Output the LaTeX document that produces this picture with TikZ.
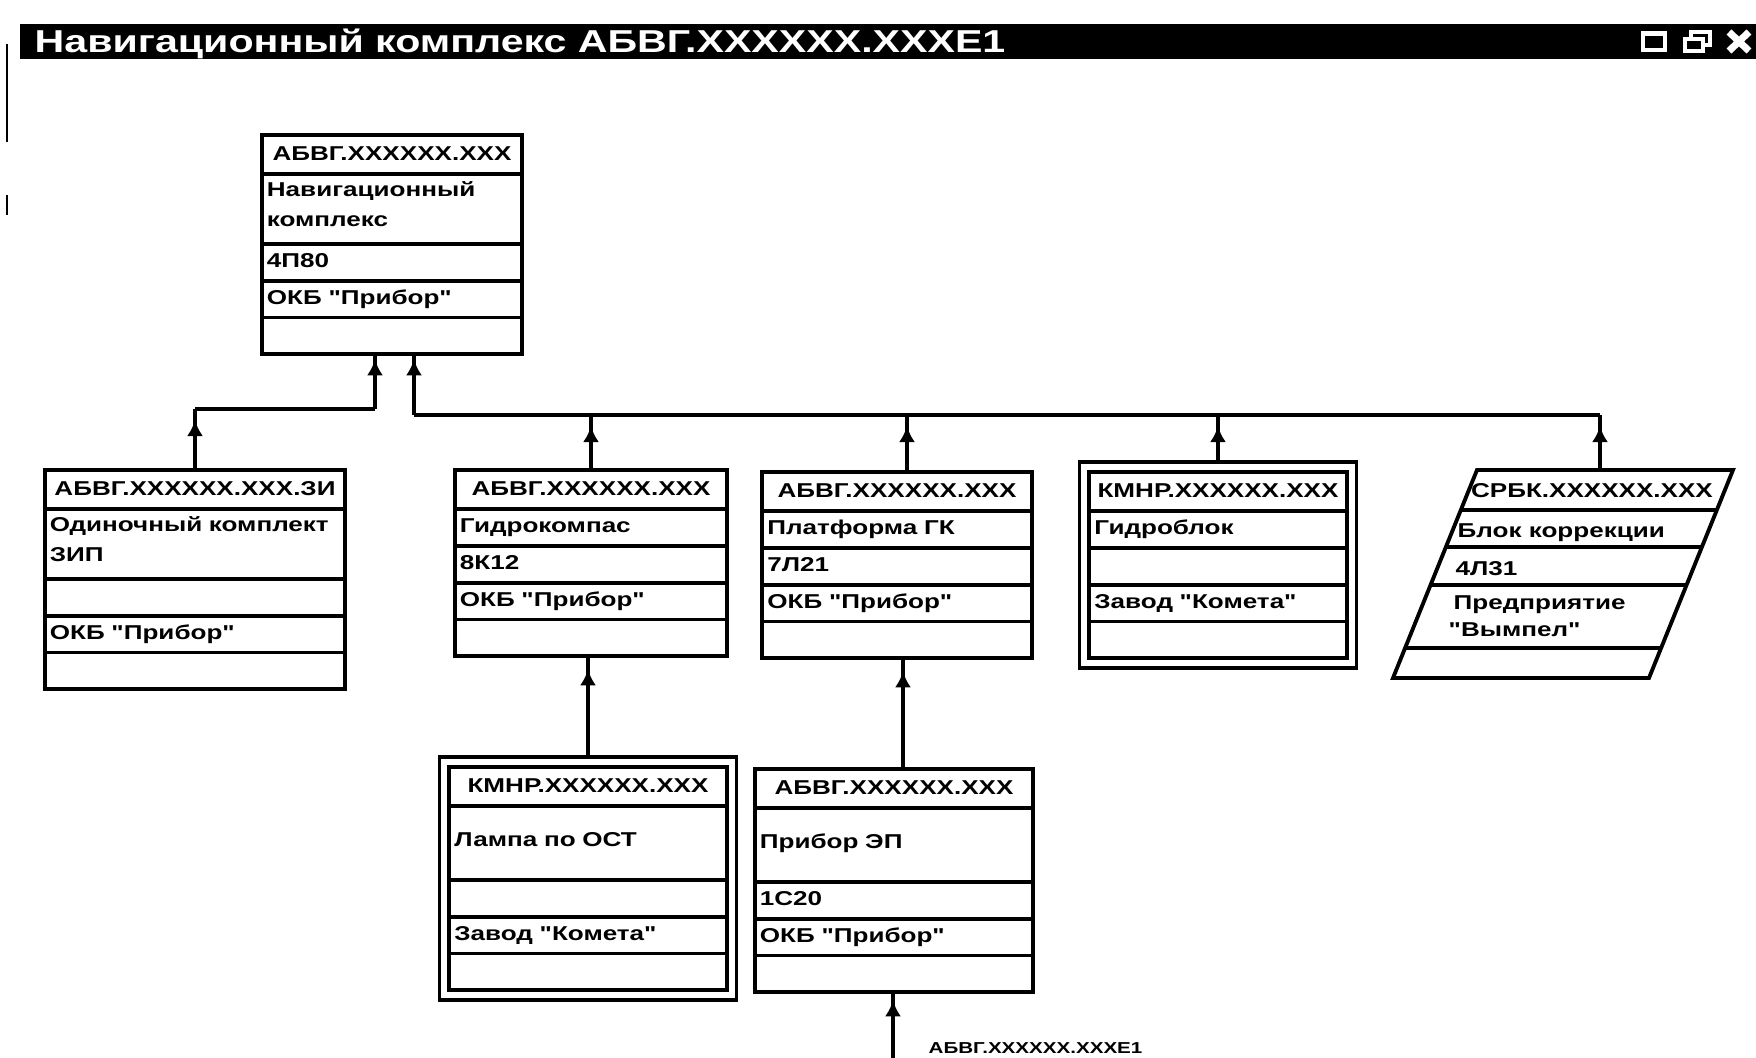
\documentclass[tikz,border=0pt]{standalone}
\usepackage{fontspec}
\setmainfont[FakeStretch=1.3, Ligatures=TeXOff]{Liberation Sans}
\usetikzlibrary{shapes.multipart, fit, arrows.meta, decorations.markings}
\setlength{\parindent}{0pt}

% row heights of the cards
\newcommand{\hdrow}{\rule[-1.1mm]{0pt}{3.5mm}}
\newcommand{\onerow}{\rule[-1.1mm]{0pt}{3.3mm}}
\newcommand{\tallrow}{\rule[-3.1mm]{0pt}{7.0mm}}
\newcommand{\twotop}{\rule{0pt}{2.1mm}}
\newcommand{\twobot}{\rule[-1.5mm]{0pt}{1.5mm}}
\newcommand{\hdcell}[1]{\makebox[\linewidth]{\hdrow #1}}

\tikzset{
    card/.style={rectangle split, rectangle split parts=5, draw, line width=1.1pt,
        inner xsep=0.5mm, inner ysep=0pt, align=left, anchor=north,
        font=\fontsize{5.7pt}{3mm}\selectfont\bfseries},
    shell/.style={draw, line width=1.1pt, inner sep=0.8mm},
    wire/.style={line width=1.1pt},
    uplink/.style={wire, postaction={decorate}, decoration={markings,
        mark=at position -#1 with {\arrow{Latex[length=1.6mm,width=1.6mm]}}}},
    uplink/.default=1.1mm,
    celltext/.style={inner sep=0pt, font=\fontsize{5.7pt}{3mm}\selectfont\bfseries}
}

\begin{document}
\begin{tikzpicture}[x=0.01cm, y=-0.01cm]
        \useasboundingbox (0,0) rectangle (1756,1058);

        % --- Window title bar ---
        \fill (20,24) rectangle (1756,59);
        \node[anchor=base west, inner sep=0pt, text=white,
            font=\fontsize{9pt}{10pt}\selectfont\bfseries] (title) at (34,53)
            {Навигационный комплекс АБВГ.XXXXXX.XXXE1};
        \draw[white, line width=0.9pt] (1643,33) rectangle (1665,50);
        \fill[white] (1643,31) rectangle (1665,36);
        \draw[white, line width=0.9pt] (1691,32) rectangle (1710,45);
        \filldraw[fill=black, draw=white, line width=0.9pt] (1685,39) rectangle (1703,51);
        \draw[white, line width=2pt] (1729,32) -- (1749,51) (1729,51) -- (1749,32);
        \draw[line width=0.8pt] (7,44) -- (7,110);
        \draw[line width=0.4pt] (7,110) -- (7,142) (7,195) -- (7,215);

        % --- Complex (root) ---
        \node[card, text width=2.50cm] (nav) at (392,133) {\hdcell{АБВГ.XXXXXX.XXX}
            \nodepart{two}\twotop Навигационный\\комплекс\twobot
            \nodepart{three}\onerow 4П80
            \nodepart{four}\onerow ОКБ "Прибор"
            \nodepart{five}\onerow};

        % --- Second level ---
        \node[card, text width=2.90cm] (zip) at (195,468) {\hdcell{АБВГ.XXXXXX.XXX.ЗИ}
            \nodepart{two}\twotop Одиночный комплект\\ЗИП\twobot
            \nodepart{three}\onerow
            \nodepart{four}\onerow ОКБ "Прибор"
            \nodepart{five}\onerow};

        \node[card, text width=2.62cm] (gyro) at (591,468) {\hdcell{АБВГ.XXXXXX.XXX}
            \nodepart{two}\onerow Гидрокомпас
            \nodepart{three}\onerow 8К12
            \nodepart{four}\onerow ОКБ "Прибор"
            \nodepart{five}\onerow};

        \node[card, text width=2.59cm] (plat) at (897,470) {\hdcell{АБВГ.XXXXXX.XXX}
            \nodepart{two}\onerow Платформа ГК
            \nodepart{three}\onerow 7Л21
            \nodepart{four}\onerow ОКБ "Прибор"
            \nodepart{five}\onerow};

        \node[card, text width=2.47cm] (hydro) at (1218,470) {\hdcell{КМНР.XXXXXX.XXX}
            \nodepart{two}\onerow Гидроблок
            \nodepart{three}\onerow
            \nodepart{four}\onerow Завод "Комета"
            \nodepart{five}\onerow};
        \node[shell, fit=(hydro)] (hydro-o) {};

        % purchased unit: slanted card
        \draw[wire] (1477,470) -- (1733,470) -- (1649,678) -- (1393,678) -- cycle;
        \draw[wire] (1461,510) -- (1717,510);
        \draw[wire] (1446,547) -- (1702,547);
        \draw[wire] (1430,585) -- (1686,585);
        \draw[wire] (1405,648) -- (1661,648);
        \coordinate (corr-top) at (1600,470);
        \node[celltext, anchor=base] (corr-id) at (1592,498) {СРБК.XXXXXX.XXX};
        \node[celltext, anchor=base west] (corr-name) at (1457,538) {Блок коррекции};
        \node[celltext, anchor=base west] (corr-code) at (1455,576) {4Л31};
        \node[celltext, anchor=base west] (corr-org1) at (1453,610) {Предприятие};
        \node[celltext, anchor=base west] (corr-org2) at (1448,637) {"Вымпел"};

        % --- Third level ---
        \node[card, text width=2.67cm] (lamp) at (588,765) {\hdcell{КМНР.XXXXXX.XXX}
            \nodepart{two}\tallrow Лампа по ОСТ
            \nodepart{three}\onerow
            \nodepart{four}\onerow Завод "Комета"
            \nodepart{five}\onerow};
        \node[shell, fit=(lamp)] (lamp-o) {};

        \node[card, text width=2.68cm] (ep) at (894,767) {\hdcell{АБВГ.XXXXXX.XXX}
            \nodepart{two}\tallrow Прибор ЭП
            \nodepart{three}\onerow 1С20
            \nodepart{four}\onerow ОКБ "Прибор"
            \nodepart{five}\onerow};

        % --- Links ---
        \coordinate (busL) at (375,409);
        \coordinate (busR) at (414,415);
        \draw[uplink=0.3mm] (busL) -- (busL |- nav.south);
        \draw[uplink=0.3mm] (busR) -- (busR |- nav.south);
        \draw[wire] (zip.north |- busL) -- (busL);
        \draw[wire] (busR) -- (corr-top |- busR);

        \draw[uplink] (zip.north) -- (zip.north |- busL);
        \draw[uplink] (gyro.north) -- (gyro.north |- busR);
        \draw[uplink] ([xshift=1mm]plat.north) -- ([xshift=1mm]plat.north |- busR);
        \draw[uplink] (hydro-o.north) -- (hydro-o.north |- busR);
        \draw[uplink] (corr-top) -- (corr-top |- busR);

        \draw[uplink] (lamp-o.north) -- (lamp-o.north |- gyro.south);
        \draw[uplink] ([xshift=0.9mm]ep.north) -- ([xshift=0.9mm]ep.north |- plat.south);

        % incoming document
        \coordinate (ext) at (893,1058);
        \draw[uplink=0.6mm] (ext) -- (ext |- ep.south);
        \node[anchor=base west, inner sep=0pt, font=\fontsize{4.5pt}{5.5pt}\selectfont\bfseries]
            (ext-lbl) at (928,1054) {АБВГ.XXXXXX.XXXE1};

    \end{tikzpicture}
\end{document}
